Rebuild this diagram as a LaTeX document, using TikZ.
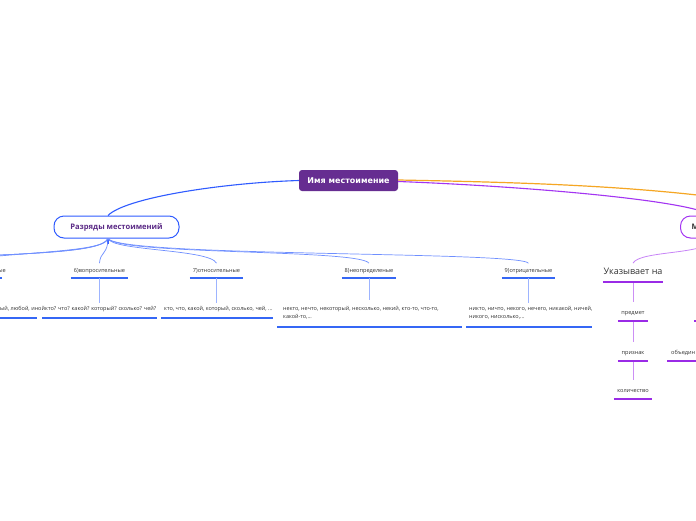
\documentclass[tikz,border=0pt]{standalone}
\usepackage{fontspec}
\setmainfont{Open Sans}
\newfontfamily\rootfont{DejaVu Sans}
\definecolor{rootpurple}{HTML}{662D91}
\definecolor{mainblue}{HTML}{2F5BFF}
\definecolor{subblue}{HTML}{6F8FFF}
\definecolor{lightblue}{HTML}{9DB4FF}
\definecolor{ulblue}{HTML}{3567F5}
\definecolor{mpurple}{HTML}{A334F2}
\definecolor{lightpurple}{HTML}{CC8FF5}
\definecolor{ulpurple}{HTML}{9A2BE6}
\definecolor{orangeline}{HTML}{F5A623}
\definecolor{txt}{HTML}{333333}
\definecolor{cattext}{HTML}{5B2A86}
\tikzset{
  rootbox/.style={fill=rootpurple, rounded corners=3pt, minimum width=99pt, minimum height=21pt,
    text=white, font=\rootfont\bfseries\fontsize{8}{9}\selectfont, inner sep=0pt},
  catbox/.style={draw, fill=white, line width=1pt, rounded corners=10pt, minimum height=22pt,
    text=cattext, font=\bfseries\fontsize{7.6}{9}\selectfont, inner sep=0pt},
  lab/.style={font=\fontsize{5.6}{7}\selectfont, text=txt, inner xsep=0pt, inner ysep=4.5pt,
    text height=4.2pt, text depth=1.2pt, anchor=south},
  plab/.style={lab, inner ysep=5pt},
  biglab/.style={font=\fontsize{9}{10}\selectfont, text=txt, inner xsep=0pt, inner ysep=5pt,
    text height=6.5pt, text depth=2pt, anchor=south},
  kid/.style={font=\fontsize{5.5}{8}\selectfont, text=txt, inner sep=0pt, align=left, anchor=north west},
  ulb/.style={ulblue, line width=2pt},
  ulp/.style={ulpurple, line width=2pt},
  mainconn/.style={mainblue, line width=1.1pt},
  subconn/.style={subblue, line width=0.7pt},
  kidconn/.style={lightblue, line width=0.8pt},
  pconn/.style={lightpurple, line width=0.8pt},
}
\begin{document}
\begin{tikzpicture}[x=1pt,y=-1pt]
\useasboundingbox (0,0) rectangle (696,520);
\fill[white] (0,0) rectangle (696,520);

% main nodes
\node[rootbox] (root) at (348.5,180.5) {Имя местоимение};
\node[catbox, draw=mainblue, minimum width=125pt] (razr) at (116.5,227) {Разряды местоимений};
\node[catbox, draw=mpurple, anchor=west, text width=40pt, align=left, inner xsep=11pt, text=txt] (mnode) at (680,227) {М};
\coordinate (orangeend) at (820,215);

% root connectors
\draw[mainconn] (root.west) .. controls (220,183) and (125,198) .. ([xshift=-8.5pt]razr.north);
\draw[orangeline, line width=1.2pt] ([yshift=0.5pt]root.east) .. controls (560,183) and (700,188) .. (orangeend);
\draw[mpurple, line width=1.1pt] ([yshift=-1pt]root.east) .. controls (520,186) and (690,200) .. (mnode.north);

% category labels
\node[font=\fontsize{5.6}{7}\selectfont, text=txt, anchor=east, inner sep=0pt] (l5t) at (6,271) {ые};
\node[lab, minimum width=57pt] (v6) at (99.5,278) {6)вопросительные};
\node[lab, minimum width=53pt] (v7) at (216.5,278) {7)относительные};
\node[lab, minimum width=54pt] (v8) at (369,278) {8)неопределеные};
\node[lab, minimum width=53pt] (v9) at (528.5,278) {9)отрицательные};
\draw[ulb] (-50,278) -- (2,278);
\draw[ulb] (v6.south west) -- (v6.south east);
\draw[ulb] (v7.south west) -- (v7.south east);
\draw[ulb] (v8.south west) -- (v8.south east);
\draw[ulb] (v9.south west) -- (v9.south east);

% fan from razr
\draw[mainblue, line width=1.4pt] ([xshift=-8.5pt]razr.south) -- ++(0,5);
\coordinate (off1) at (-60,262);
\coordinate (off2) at (-180,262);
\coordinate (off3) at (-300,262);
\draw[subconn] ([xshift=-8.5pt]razr.south) .. controls (104,252) and (30,251) .. (off1);
\draw[subconn] ([xshift=-8.5pt]razr.south) .. controls (102,254) and (20,254) .. (off2);
\draw[subconn] ([xshift=-8.5pt]razr.south) .. controls (100,255) and (10,256) .. (off3);
\draw[subconn] ([xshift=-8.5pt]razr.south) .. controls (108,254) and (100,252) .. (v6.north);
\draw[subconn] ([xshift=-8.5pt]razr.south) .. controls (112,251) and (210,249) .. (v7.north);
\draw[subconn] ([xshift=-8.5pt]razr.south) .. controls (118,255) and (360,249) .. (v8.north);
\draw[subconn] ([xshift=-8.5pt]razr.south) .. controls (120,257) and (520,251) .. (v9.north);

% children
\node[kid] (c5) at (0,306) {ый, любой, иной};
\node[kid] (c6) at (45,306) {кто? что? какой? который? сколько? чей?};
\node[kid] (c7) at (164,306) {кто, что, какой, который, сколько, чей, ...};
\node[kid] (c8) at (283,306) {некто, нечто, некоторый, несколько, некий, кто-то, что-то,\\какой-то,...};
\node[kid] (c9) at (469,306) {никто, ничто, некого, нечего, никакой, ничей,\\никого, нисколько,...};
\draw[ulb] (-5,318) -- (37,318);
\draw[ulb] (42,318) -- (157,318);
\draw[ulb] (161,318) -- (273,318);
\draw[ulb] (277,326.5) -- (462,326.5);
\draw[ulb] (466,326.5) -- (592,326.5);
\draw[kidconn] (v6.south) -- ([yshift=3pt]v6.south |- c6.north);
\draw[kidconn] (v7.south) -- ([yshift=3pt]v7.south |- c7.north);
\draw[kidconn] (v8.south) -- ([yshift=6pt]v8.south |- c8.north);
\draw[kidconn] (v9.south) -- ([yshift=3pt]v9.south |- c9.north);

% right purple branch
\node[biglab, minimum width=60pt] (uk) at (633,282) {Указывает на};
\node[plab, minimum width=30pt] (pred) at (633,321) {предмет};
\node[plab, minimum width=30pt] (priz) at (633,361) {признак};
\node[plab, minimum width=38pt] (kol) at (633,399) {количество};
\node[plab, anchor=south west, text width=56pt, align=left, inner xsep=4pt] (obed) at (667,361) {объедин};
\draw[ulp] (uk.south west) -- (uk.south east);
\draw[ulp] (pred.south west) -- (pred.south east);
\draw[ulp] (priz.south west) -- (priz.south east);
\draw[ulp] (kol.south west) -- (kol.south east);
\draw[ulp] (obed.south west) -- (obed.south east);
\draw[ulp] (694,321) -- (740,321);
\draw[mpurple!60, line width=0.8pt] (mnode.south) .. controls (712,255) and (640,250) .. (uk.north);
\draw[pconn] ([yshift=-1pt]uk.south) -- ([yshift=3pt]pred.north);
\draw[pconn] ([yshift=-1pt]pred.south) -- ([yshift=3pt]priz.north);
\draw[pconn] ([yshift=-1pt]priz.south) -- ([yshift=3pt]kol.north);
\end{tikzpicture}
\end{document}
